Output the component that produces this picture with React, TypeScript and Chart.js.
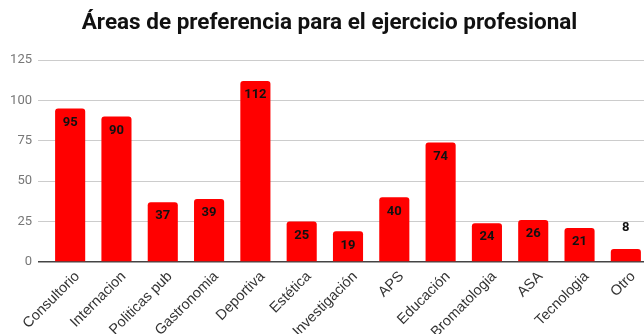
import React, { useEffect, useRef } from "react";
import { Chart, registerables } from "chart.js";

Chart.register(...registerables);

const TITLE = "Áreas de preferencia para el ejercicio profesional";
const categories = [
  "Consultorio",
  "Internacion",
  "Politicas pub",
  "Gastronomia",
  "Deportiva",
  "Estética",
  "Investigación",
  "APS",
  "Educación",
  "Bromatologia",
  "ASA",
  "Tecnologia",
  "Otro",
];
const values = [95, 90, 37, 39, 112, 25, 19, 40, 74, 24, 26, 21, 8];
const yTicks = [0, 25, 50, 75, 100, 125];

const valueLabels = {
  id: "valueLabels",
  afterDatasetsDraw(chart: any) {
    const ctx = chart.ctx;
    const meta = chart.getDatasetMeta(0);
    ctx.save();
    ctx.font = "bold 13px Roboto";
    ctx.fillStyle = "#111";
    ctx.textAlign = "center";
    ctx.textBaseline = "middle";
    meta.data.forEach((bar: any, i: number) => {
      const h = bar.base - bar.y;
      const y = h > 28 ? bar.y + 14 : bar.y - 21;
      ctx.fillText(String(values[i]), bar.x, y);
    });
    ctx.restore();
  },
};

// Rotated category labels, placed from the x scale's own tick pixels
const xLabels = {
  id: "xLabels",
  afterDraw(chart: any) {
    const s = chart.scales.x;
    const ctx = chart.ctx;
    ctx.save();
    ctx.font = "14.5px 'Liberation Sans', Arial, sans-serif";
    ctx.fillStyle = "#333";
    ctx.textAlign = "right";
    ctx.textBaseline = "alphabetic";
    s.getLabels().forEach((label: string, i: number) => {
      const x = s.getPixelForTick(i);
      ctx.save();
      ctx.translate(x + 10, s.top + 15);
      ctx.rotate(-Math.PI / 4);
      ctx.fillText(label, 0, 0);
      ctx.restore();
    });
    ctx.restore();
  },
};

export default function App() {
  const ref = useRef<HTMLCanvasElement>(null);
  useEffect(() => {
    if (!ref.current) return;
    const chart = new Chart(ref.current, {
      type: "bar",
      data: {
        labels: categories,
        datasets: [
          {
            data: values,
            backgroundColor: "#ff0000",
            borderRadius: 3,
            borderSkipped: "bottom",
            categoryPercentage: 1,
            barPercentage: 0.65,
          },
        ],
      },
      options: {
        animation: false,
        responsive: false,
        maintainAspectRatio: false,
        layout: { padding: { left: 10, right: 19, top: 0, bottom: 0 } },
        plugins: {
          legend: { display: false },
          tooltip: { enabled: false },
          title: {
            display: true,
            text: TITLE,
            color: "#111",
            font: { family: "Roboto", size: 22.5, weight: "bold", lineHeight: 1.2 },
            padding: { top: 10, bottom: 23 },
          },
        },
        scales: {
          x: {
            grid: { display: false },
            border: { display: false },
            ticks: { display: false },
            afterFit: (s: any) => {
              s.height = 72;
            },
          },
          y: {
            min: 0,
            max: 125,
            afterBuildTicks: (s: any) => {
              s.ticks = yTicks.map((v) => ({ value: v }));
            },
            grid: {
              color: (c: any) => (c.tick && c.tick.value === 0 ? "#444" : "#cccccc"),
              lineWidth: (c: any) => (c.tick && c.tick.value === 0 ? 1.5 : 1),
              tickLength: 9,
              drawTicks: true,
            },
            border: { display: false },
            ticks: {
              color: "#777",
              font: { family: "Roboto", size: 13 },
              padding: 6,
            },
            afterFit: (s: any) => {
              s.width = 37;
            },
          },
        },
      },
      plugins: [valueLabels, xLabels],
    });
    return () => chart.destroy();
  }, []);
  return (
    <div
      style={{
        position: "fixed",
        left: 0,
        top: 0,
        width: 644,
        height: 334,
        overflow: "hidden",
        background: "#fff",
      }}
    >
      <canvas ref={ref} width={668} height={334} style={{ width: 668, height: 334, display: "block" }} />
    </div>
  );
}
